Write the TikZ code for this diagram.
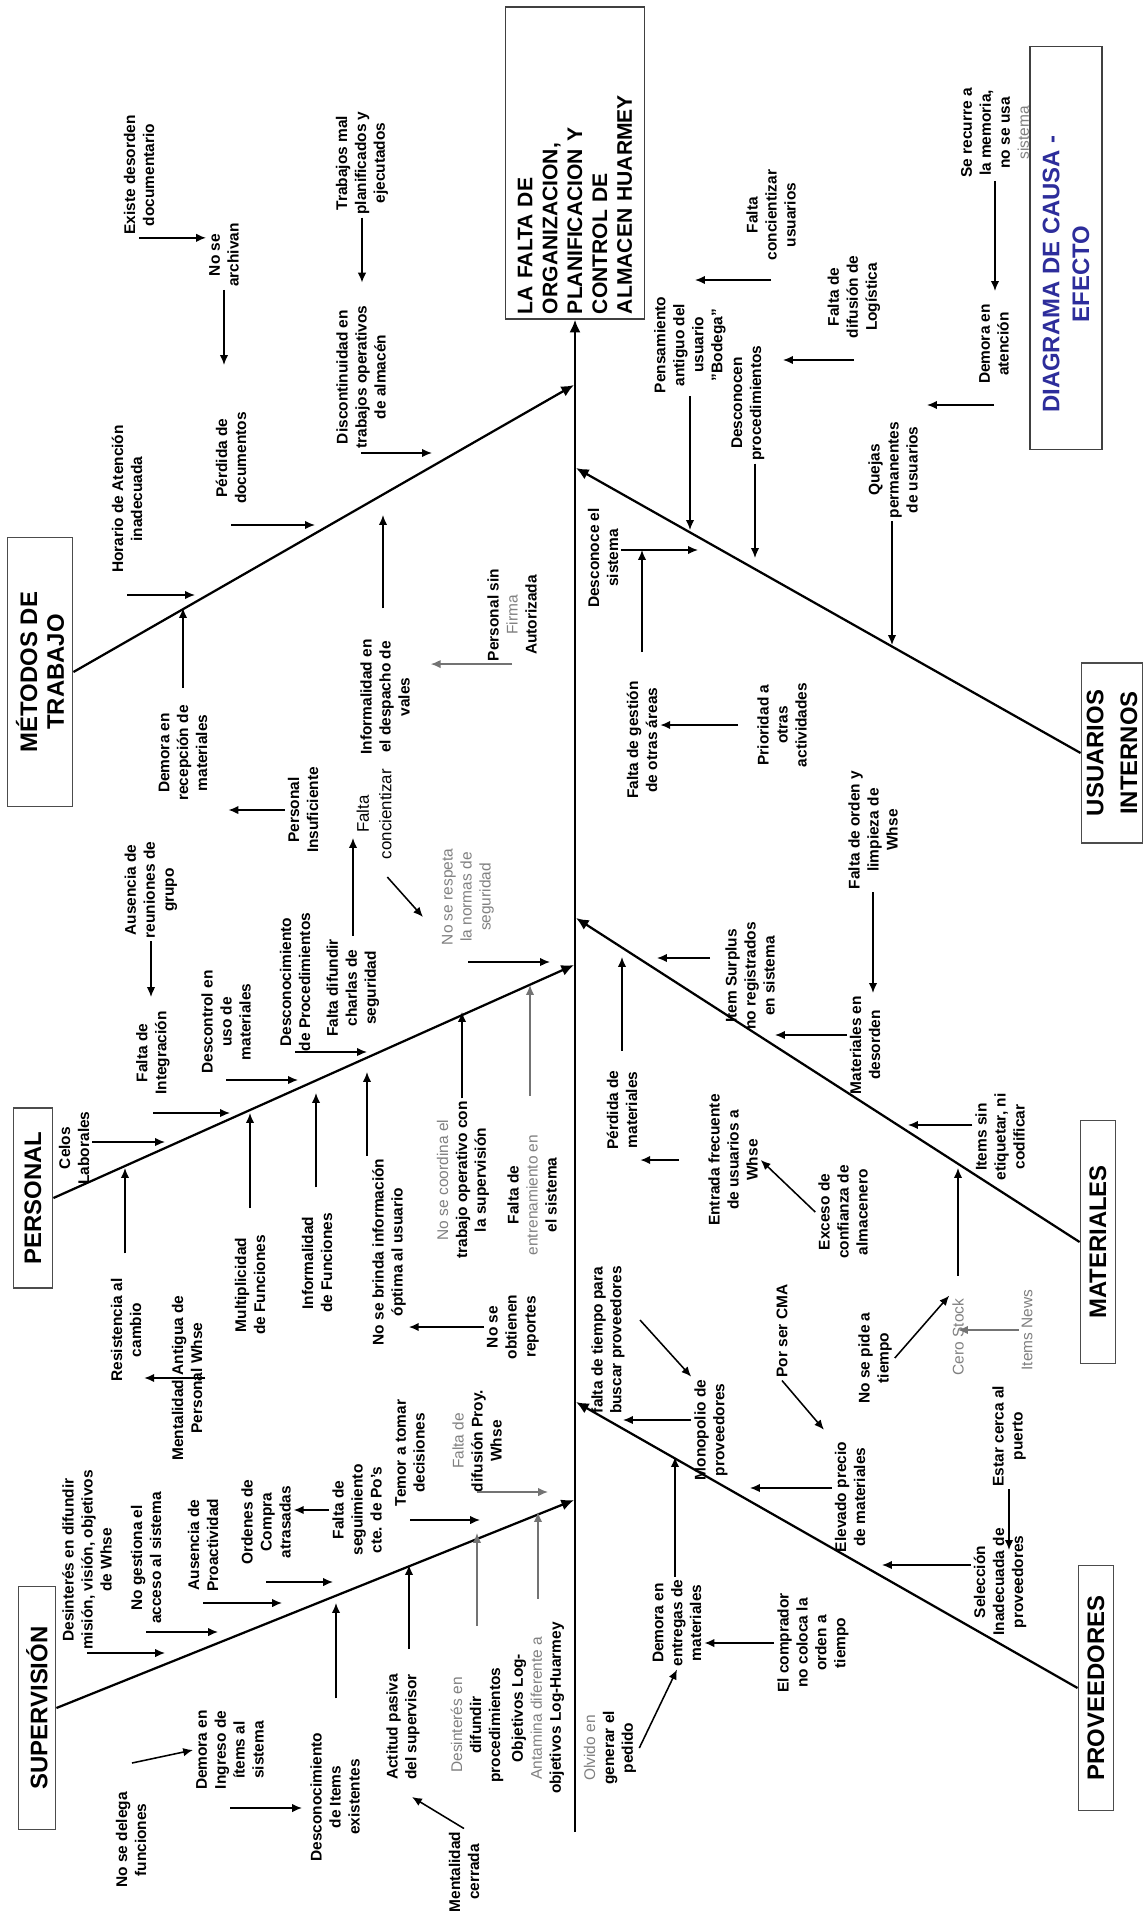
\documentclass[tikz,border=0pt]{standalone}
\usepackage{fontspec}
\setmainfont{Liberation Sans}
\usepackage{xcolor}
\usetikzlibrary{arrows.meta}
\definecolor{titleblue}{RGB}{45,45,155}
\newcommand{\greytxt}[1]{{\color{black!50}\mdseries #1}}

\begin{document}
\begin{tikzpicture}[x=0.025cm, y=-0.025cm,
  lbl/.style={rotate=90, align=center, inner sep=2pt, font=\fontsize{11}{13.5}\selectfont\bfseries},
  glbl/.style={lbl, text=black!50, font=\fontsize{11}{13.5}\selectfont},
  cat/.style={draw=black!70, line width=1.3pt, rotate=90, align=center, inner sep=0pt, font=\fontsize{17}{19}\selectfont\bfseries},
  bone/.style={line width=1.6pt, -{Latex[length=9pt,width=8pt]}},
  arr/.style={line width=1.1pt, -{Latex[length=7pt,width=6pt]}},
  arrg/.style={arr, draw=black!55},
]
  \fill[white] (0,0) rectangle (1144,1915);
  \useasboundingbox (0,0) rectangle (1144,1915);

  % effect and title
  \node[draw=black!75, line width=1.3pt, rotate=90, align=left, text width=7.55cm, minimum height=3.475cm, inner xsep=0.12cm, font=\fontsize{15}{17.7}\selectfont\bfseries] (effect) at (575,163) {LA FALTA DE\\ORGANIZACION,\\PLANIFICACION Y\\CONTROL DE\\ALMACEN HUARMEY};
  \node[draw=black!75, line width=1.3pt, rotate=90, align=center, minimum width=10.075cm, minimum height=1.8cm, text=titleblue, font=\fontsize{17}{21}\selectfont\bfseries] (title) at (1066,248) {DIAGRAMA DE CAUSA -\hspace*{1.3cm}\\EFECTO\hspace*{1.3cm}};

  % categories
  \node[cat, minimum width=6.725cm, minimum height=1.625cm] (met) at (40,672) {MÉTODOS DE\\TRABAJO};
  \node[cat, minimum width=4.5cm, minimum height=0.975cm] (per) at (33,1198) {PERSONAL};
  \node[cat, minimum width=6.075cm, minimum height=0.925cm] (sup) at (37,1708) {SUPERVISIÓN};
  \node[cat, minimum width=4.5cm, minimum height=1.525cm, font=\fontsize{17}{24}\selectfont\bfseries] (usu) at (1112,753) {USUARIOS\\INTERNOS};
  \node[cat, minimum width=6.075cm, minimum height=0.875cm] (mat) at (1098,1242) {MATERIALES};
  \node[cat, minimum width=6.125cm, minimum height=0.875cm] (pro) at (1096,1688) {PROVEEDORES};

  % spine and bones
  \coordinate (tail) at (575,1832);
  \coordinate (jm) at (574,385);
  \coordinate (ju) at (576,468);
  \coordinate (jma) at (576,918);
  \coordinate (jp) at (574,965);
  \coordinate (jpr) at (576,1402);
  \coordinate (js) at (574,1500);
  \draw[bone] (tail) -- (effect.west);
  \draw[bone] (met.south) -- (jm);
  \draw[bone] (usu.north) -- (ju);
  \draw[bone] (per.south) -- (jp);
  \draw[bone] (mat.north) -- (jma);
  \draw[bone] (sup.south) -- (js);
  \draw[bone] (pro.north) -- (jpr);

  % Metodos de trabajo
  \node[lbl] (exi) at (139,175) {Existe desorden\\documentario};
  \node[lbl] (nos) at (224,255) {No se\\archivan};
  \node[lbl] (tra) at (362,163) {Trabajos mal\\planificados y\\ejecutados};
  \node[lbl] (disc) at (361,377) {Discontinuidad en\\trabajos operativos\\de almacén};
  \node[lbl] (hor) at (127,499) {Horario de Atención\\inadecuada};
  \node[lbl] (pdoc) at (231,458) {Pérdida de\\documentos};
  \node[lbl] (dem) at (183,753) {Demora en\\recepción de\\materiales};
  \node[lbl] (pins) at (303,810) {Personal\\Insuficiente};
  \node[lbl] (inf) at (385,697) {Informalidad en\\el despacho de\\vales};
  \node[lbl, font=\fontsize{12}{16}\selectfont] (fcon) at (374,814) {Falta\\concientizar};
  \node[glbl] (nrs) at (468,897) {No se respeta\\la normas de\\seguridad};
  \node[lbl] (psf) at (512,615) {Personal sin\\\greytxt{Firma}\\Autorizada};

  \coordinate (m1) at (195,595);
  \coordinate (m2) at (315,525);
  \coordinate (m3) at (183,608);
  \coordinate (m4) at (383,515);
  \coordinate (m5) at (432,453);
  \coordinate (nrstip) at (423,917);
  \coordinate (nrsend) at (550,962);

  \draw[arr] (exi.west) -- (exi.west -| nos.north);
  \draw[arr, shorten >=1.1cm] (nos.west) -- (nos.west |- pdoc.east);
  \draw[arr, shorten >=0.5cm] (tra.west) -- (tra.west |- disc.east);
  \draw[arr] (disc.west |- m5) -- (m5);
  \draw[arr] (hor.west |- m1) -- (m1);
  \draw[arr] (pdoc.west |- m2) -- (m2);
  \draw[arr, shorten <=0.35cm] (dem.east -| m3) -- (m3);
  \draw[arr, shorten >=0.45cm] (pins.north) -- (pins.north -| dem.south);
  \draw[arr, shorten <=0.7cm] (inf.east -| m4) -- (m4);
  \draw[arr, shorten <=0.5cm] (fcon.west) -- (nrstip);
  \draw[arr] (nrs.west |- nrsend) -- (nrsend);
  \draw[arrg, shorten >=0.45cm] (psf.west) -- (psf.west -| inf.south);

  % Usuarios internos
  \node[lbl] (dsi) at (603,558) {Desconoce el\\sistema};
  \node[lbl] (fgo) at (642,740) {Falta de gestión\\de otras áreas};
  \node[lbl] (pri) at (782,725) {Prioridad a\\otras\\actividades};
  \node[lbl] (pen) at (690,345) {Pensamiento\\antiguo del\\usuario\\"Bodega"};
  \node[lbl] (dpr) at (748,403) {Desconocen\\procedimientos};
  \node[lbl] (fcu) at (771,215) {Falta\\concientizar\\usuarios};
  \node[lbl] (fdl) at (854,297) {Falta de\\difusión de\\Logística};
  \node[lbl] (ser) at (995,133) {Se recurre a\\la memoria,\\no se usa\\\greytxt{sistema}};
  \node[lbl] (dat) at (994,344) {Demora en\\atención};
  \node[lbl] (que) at (893,470) {Quejas\\permanentes\\de usuarios};

  \coordinate (u1) at (690,530);
  \coordinate (u2) at (755,558);
  \coordinate (u3) at (892,645);
  \coordinate (dsiend) at (698,550);
  \coordinate (fcuend) at (695,280);
  \coordinate (fdlend) at (783,360);
  \coordinate (datend) at (927,405);

  \draw[arr] (pen.west -| u1) -- (u1);
  \draw[arr] (dpr.west -| u2) -- (u2);
  \draw[arr] (fcu.west |- fcuend) -- (fcuend);
  \draw[arr] (fdl.west |- fdlend) -- (fdlend);
  \draw[arr, shorten >=0.25cm] (ser.west) -- (ser.west |- dat.east);
  \draw[arr] (dat.west |- datend) -- (datend);
  \draw[arr] (que.west -| u3) -- (u3);
  \draw[arr] (dsi.south |- dsiend) -- (dsiend);
  \draw[arr, shorten <=0.65cm] (fgo.east) -- (fgo.east |- dsiend);
  \draw[arr, shorten <=0.4cm] (pri.north) -- (pri.north -| fgo.south);

  % Personal
  \node[lbl] (aus) at (151,890) {Ausencia de\\reuniones de\\grupo};
  \node[lbl] (fin) at (153,1053) {Falta de\\Integración};
  \node[lbl] (cel) at (74,1148) {Celos\\Laborales};
  \node[lbl] (des) at (226,1022) {Descontrol en\\uso de\\materiales};
  \node[lbl] (dpro) at (295,982) {Desconocimiento\\de Procedimientos};
  \node[lbl] (fdc) at (353,988) {Falta difundir\\charlas de\\seguridad};
  \node[lbl] (res) at (126,1330) {Resistencia al\\cambio};
  \node[lbl] (men) at (187,1378) {Mentalidad Antigua de\\Personal Whse};
  \node[lbl] (mul) at (250,1285) {Multiplicidad\\de Funciones};
  \node[lbl] (ifu) at (317,1263) {Informalidad\\de Funciones};
  \node[lbl] (nsb) at (389,1252) {No se brinda información\\óptima al usuario};
  \node[lbl] (nob) at (513,1327) {No se\\obtienen\\reportes};
  \node[lbl] (nco) at (463,1180) {\greytxt{No se coordina el}\\trabajo operativo con\\la supervisión};
  \node[lbl] (fen) at (532,1195) {Falta de\\\greytxt{entrenamiento en}\\el sistema};

  \coordinate (p1) at (165,1142);
  \coordinate (p2) at (230,1113);
  \coordinate (p3) at (298,1080);
  \coordinate (p4) at (367,1052);
  \coordinate (p5) at (125,1168);
  \coordinate (p6) at (250,1113);
  \coordinate (p7) at (316,1093);
  \coordinate (p8) at (367,1072);
  \coordinate (p9) at (462,1012);
  \coordinate (p10) at (530,985);

  \draw[arr, shorten >=0.6cm] (fdc.east) -- (fdc.east |- fcon);
  \draw[arr, shorten >=0.28cm] (aus.west) -- (aus.west |- fin.east);
  \draw[arr] (cel.south |- p1) -- (p1);
  \draw[arr] (fin.west |- p2) -- (p2);
  \draw[arr] (des.west |- p3) -- (p3);
  \draw[arr] (dpro.west |- p4) -- (p4);
  \draw[arr, shorten <=0.55cm] (res.east -| p5) -- (p5);
  \draw[arr] (men.south) -- (men.south -| res.south);
  \draw[arr, shorten <=0.6cm] (mul.east -| p6) -- (p6);
  \draw[arr, shorten <=0.57cm] (ifu.east -| p7) -- (p7);
  \draw[arr] (nsb.east -| p8) -- (p8);
  \draw[arr] (nob.north) -- (nob.north -| nsb.south);
  \draw[arr] (nco.east -| p9) -- (p9);
  \draw[arrg, shorten <=0.9cm] (fen.east -| p10) -- (p10);

  % Materiales
  \node[lbl] (isu) at (750,976) {Item Surplus\\no registrados\\en sistema};
  \node[lbl] (pma) at (622,1110) {Pérdida de\\materiales};
  \node[lbl] (efr) at (733,1160) {Entrada frecuente\\de usuarios a\\Whse};
  \node[lbl] (exc) at (843,1212) {Exceso de\\confianza de\\almacenero};
  \node[lbl] (mde) at (865,1045) {Materiales en\\desorden};
  \node[lbl] (fol) at (873,830) {Falta de orden y\\limpieza de\\Whse};
  \node[lbl] (ise) at (1000,1137) {Items sin\\etiquetar, ni\\codificar};
  \node[glbl] (cst) at (958,1337) {Cero Stock};
  \node[glbl] (inw) at (1027,1330) {Items News};
  \node[lbl] (npt) at (875,1358) {No se pide a\\tiempo};
  \node[lbl] (psc) at (782,1331) {Por ser CMA};

  \coordinate (ma1) at (657,958);
  \coordinate (ma2) at (622,957);
  \coordinate (ma3) at (775,1035);
  \coordinate (ma4) at (908,1125);
  \coordinate (ma5) at (958,1168);

  \draw[arr, shorten <=0.3cm] (isu.north |- ma1) -- (ma1);
  \draw[arr, shorten <=0.42cm] (pma.east -| ma2) -- (ma2);
  \draw[arr, shorten <=0.65cm] (efr.north) -- (efr.north -| pma.south);
  \draw[arr] (exc.north) -- (efr.south);
  \draw[arr] (mde.north |- ma3) -- (ma3);
  \draw[arr] (fol.west) -- (fol.west |- mde.east);
  \draw[arr] (ise.north |- ma4) -- (ma4);
  \draw[arr, shorten <=0.5cm] (cst.east -| ma5) -- (ma5);
  \draw[arrg] (inw.north) -- (inw.north -| cst);
  \draw[arr] (npt.south) -- (cst.north east);

  % Proveedores
  \node[lbl] (ele) at (850,1497) {Elevado precio\\de materiales};
  \node[lbl] (sel) at (1000,1582) {Selección\\Inadecuada de\\proveedores};
  \node[lbl] (ecp) at (1009,1436) {Estar cerca al\\puerto};
  \node[lbl] (cmp) at (813,1643) {El comprador\\no coloca la\\orden a\\tiempo};
  \node[lbl] (den) at (677,1623) {Demora en\\entregas de\\materiales};
  \node[lbl] (olv) at (610,1748) {\greytxt{Olvido en}\\generar el\\pedido};
  \node[lbl] (mon) at (711,1430) {Monopolio de\\proveedores};
  \node[lbl] (ftb) at (608,1340) {falta de tiempo para\\buscar proveedores};

  \coordinate (pr1) at (750,1488);
  \coordinate (pr2) at (882,1565);
  \coordinate (pr3) at (675,1457);
  \coordinate (pr4) at (623,1420);
  \coordinate (ecpend) at (1007,1550);
  \coordinate (ftbstart) at (640,1320);

  \draw[arr, shorten >=0.3cm] (psc.west) -- (ele.north east);
  \draw[arr] (ele.north |- pr1) -- (pr1);
  \draw[arr] (sel.north |- pr2) -- (pr2);
  \draw[arr] (ecp.west) -- (ecp.west |- ecpend);
  \draw[arr] (cmp.north) -- (cmp.north -| den.south);
  \draw[arr] (den.east -| pr3) -- (pr3);
  \draw[arr] (olv.south) -- (den.west);
  \draw[arr] (mon.north |- pr4) -- (pr4);
  \draw[arr] (ftbstart) -- (mon.north east);

  % Supervision
  \node[lbl] (dvm) at (87,1560) {Desinterés en difundir\\misión, visión, objetivos\\de Whse};
  \node[lbl] (ngs) at (146,1558) {No gestiona el\\acceso al sistema};
  \node[lbl] (apr) at (203,1545) {Ausencia de\\Proactividad};
  \node[lbl] (occ) at (266,1522) {Ordenes de\\Compra\\atrasadas};
  \node[lbl] (fsp) at (357,1510) {Falta de\\seguimiento\\cte. de Po's};
  \node[lbl] (dit) at (335,1797) {Desconocimiento\\de Items\\existentes};
  \node[lbl] (dig) at (230,1750) {Demora en\\Ingreso de\\ítems al\\sistema};
  \node[lbl] (nde) at (131,1840) {No se delega\\funciones};
  \node[lbl] (aps) at (403,1727) {Actitud pasiva\\del supervisor};
  \node[lbl] (mce) at (464,1872) {Mentalidad\\cerrada};
  \node[lbl] (dip) at (477,1725) {\greytxt{Desinterés en}\\difundir\\procedimientos};
  \node[lbl] (obj) at (538,1708) {Objetivos Log-\\\greytxt{Antamina diferente a}\\objetivos Log-Huarmey};
  \node[lbl] (tem) at (410,1453) {Temor a tomar\\decisiones};
  \node[lbl] (fdp) at (477,1441) {\greytxt{Falta de}\\difusión Proy.\\Whse};

  \coordinate (s1) at (165,1653);
  \coordinate (s2) at (218,1632);
  \coordinate (s3) at (282,1603);
  \coordinate (s4) at (333,1582);
  \coordinate (s5) at (336,1603);
  \coordinate (s6) at (409,1565);
  \coordinate (s7) at (477,1533);
  \coordinate (s8) at (538,1512);
  \coordinate (s9) at (480,1520);
  \coordinate (sfd) at (548,1492);
  \coordinate (digend) at (302,1808);
  \coordinate (ndestart) at (132,1763);
  \coordinate (mcetip) at (412,1797);

  \draw[arr] (dvm.west |- s1) -- (s1);
  \draw[arr] (ngs.west |- s2) -- (s2);
  \draw[arr] (apr.west |- s3) -- (s3);
  \draw[arr] (occ.west |- s4) -- (s4);
  \draw[arr] (fsp.north) -- (fsp.north -| occ.south);
  \draw[arr, shorten <=0.78cm] (dit.east -| s5) -- (s5);
  \draw[arr] (dig.west |- digend) -- (digend);
  \draw[arr] (ndestart) -- (dig.north);
  \draw[arr, shorten <=0.55cm] (aps.east -| s6) -- (s6);
  \draw[arr] (mce.east) -- (mcetip);
  \draw[arrg, shorten <=0.97cm] (dip.east -| s7) -- (s7);
  \draw[arrg, shorten <=0.5cm] (obj.east -| s8) -- (s8);
  \draw[arr] (tem.west |- s9) -- (s9);
  \draw[arrg] (fdp.west |- sfd) -- (sfd);
\end{tikzpicture}
\end{document}
